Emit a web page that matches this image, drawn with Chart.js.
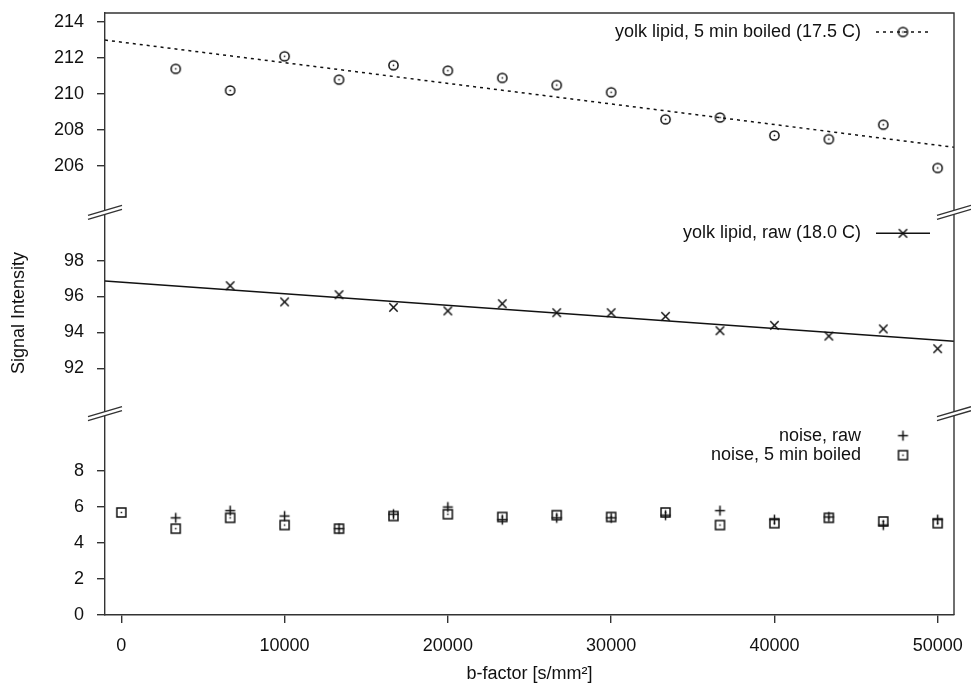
<!DOCTYPE html>
<html>
<head>
<meta charset="utf-8">
<script src="https://cdn.jsdelivr.net/npm/chart.js@4.4.0/dist/chart.umd.min.js"></script>
<style>
html, body { margin: 0; padding: 0; background: #fff; }
canvas { display: block; }
</style>
</head>
<body>
<canvas id="mycanvas" width="971" height="686"></canvas>
<script>
// b-factor values [s/mm^2]
var bFactor = [0, 3333, 6667, 10000, 13333, 16667, 20000, 23333, 26667, 30000, 33333, 36667, 40000, 43333, 46667, 50000];

// signal intensities (null = no measurement)
var lipidBoiled = [null, 211.4, 210.2, 212.1, 210.8, 211.6, 211.3, 210.9, 210.5, 210.1, 208.6, 208.7, 207.7, 207.5, 208.3, 205.9];
var lipidRaw    = [null, null, 96.6, 95.7, 96.1, 95.4, 95.2, 95.6, 95.1, 95.1, 94.9, 94.1, 94.4, 93.8, 94.2, 93.1];
var noiseRaw    = [null, 5.4, 5.8, 5.5, 4.8, 5.6, 6.0, 5.3, 5.4, 5.4, 5.55, 5.8, 5.3, 5.45, 5.0, 5.3];
var noiseBoiled = [5.7, 4.8, 5.4, 5.0, 4.8, 5.5, 5.6, 5.45, 5.55, 5.45, 5.7, 5.0, 5.1, 5.4, 5.2, 5.1];

// linear fits (end points)
var fitX         = [-1000, 51000];
var fitBoiledY   = [213.0, 207.05];
var fitRawY      = [96.86, 93.52];

// axis ticks
var xTicks      = [0, 10000, 20000, 30000, 40000, 50000];
var yTopTicks   = [206, 208, 210, 212, 214];
var yMidTicks   = [92, 94, 96, 98];
var yBotTicks   = [0, 2, 4, 6, 8];

var FONT = "'Liberation Sans', Arial, sans-serif";
var INK = '#111';
var AXIS = '#333';

function pairs(xs, ys) {
	var out = [];
	for (var i in xs) {
		if (ys[i] !== null) out.push({x: xs[i], y: ys[i]});
	}
	return out;
}

function makeMarker(kind) {
	var c = document.createElement('canvas');
	c.width = 15; c.height = 15;
	var g = c.getContext('2d');
	var m = 7.5;
	g.strokeStyle = INK; g.fillStyle = INK; g.lineWidth = 1.5;
	g.beginPath();
	if (kind === 'circle') {
		g.arc(m, m, 4.6, 0, 2 * Math.PI);
	} else if (kind === 'x') {
		g.moveTo(m - 4.2, m - 4.2); g.lineTo(m + 4.2, m + 4.2);
		g.moveTo(m - 4.2, m + 4.2); g.lineTo(m + 4.2, m - 4.2);
	} else if (kind === 'plus') {
		g.moveTo(m - 5, m); g.lineTo(m + 5, m);
		g.moveTo(m, m - 5); g.lineTo(m, m + 5);
	} else if (kind === 'square') {
		g.rect(m - 4.5, m - 4.5, 9, 9);
	}
	g.stroke();
	if (kind === 'circle' || kind === 'square') {
		g.fillRect(m - 0.75, m - 0.75, 1.5, 1.5);
	}
	return c;
}

var markers = {
	circle: makeMarker('circle'),
	x: makeMarker('x'),
	plus: makeMarker('plus'),
	square: makeMarker('square')
};

function yScale(min, max, ticks, weight, title) {
	return {
		type: 'linear',
		position: 'left',
		stack: 'signal',
		stackWeight: weight,
		min: min,
		max: max,
		afterBuildTicks: function(s) { s.ticks = ticks.map(function(v) { return {value: v}; }); },
		afterFit: function(s) { s.width = 105; s.paddingTop = 0; s.paddingBottom = 0; },
		grid: { drawOnChartArea: false, drawTicks: true, tickLength: 8, color: AXIS, lineWidth: 1.4 },
		border: { display: true, color: AXIS, width: 1.4 },
		ticks: { color: INK, font: { family: FONT, size: 18 }, padding: 13, callback: function(v) { return String(v); } },
		title: { display: !!title, text: title || '', color: INK, font: { family: FONT, size: 18 }, padding: { top: 8, bottom: 0 } }
	};
}

function drawBreak(ctx, x, y) {
	var w = 17, r = 5, gap = 2;
	ctx.fillStyle = '#fff';
	ctx.beginPath();
	ctx.moveTo(x - w, y + r - gap); ctx.lineTo(x + w, y - r - gap);
	ctx.lineTo(x + w, y - r + gap); ctx.lineTo(x - w, y + r + gap);
	ctx.closePath();
	ctx.fill();
	ctx.beginPath();
	ctx.moveTo(x - w, y + r - gap); ctx.lineTo(x + w, y - r - gap);
	ctx.moveTo(x - w, y + r + gap); ctx.lineTo(x + w, y - r + gap);
	ctx.stroke();
}

var framePlugin = {
	id: 'frame',
	afterDraw: function(chart) {
		var ctx = chart.ctx, a = chart.chartArea, sc = chart.scales;
		var ds = chart.data.datasets;
		ctx.save();
		ctx.strokeStyle = AXIS;
		ctx.lineWidth = 1.4;
		ctx.beginPath();
		ctx.moveTo(a.left, a.top); ctx.lineTo(a.right, a.top); ctx.lineTo(a.right, a.bottom);
		ctx.stroke();
		[sc.yTop.bottom, sc.yMid.bottom].forEach(function(y) {
			drawBreak(ctx, a.left, y);
			drawBreak(ctx, a.right, y);
		});

		// key
		var rows = [
			{ d: 0, fit: 4, y: sc.yTop.top + 19 },
			{ d: 1, fit: 5, y: sc.yMid.top + 21 },
			{ d: 2, y: sc.yBot.top + 22 },
			{ d: 3, y: sc.yBot.top + 41.5 }
		];
		var textX = a.right - 93, mx = a.right - 51;
		ctx.font = '18px ' + FONT;
		ctx.fillStyle = INK;
		ctx.textAlign = 'right';
		ctx.textBaseline = 'middle';
		rows.forEach(function(r) {
			ctx.fillText(ds[r.d].label, textX, r.y);
			if (r.fit !== undefined) {
				var f = ds[r.fit];
				ctx.save();
				ctx.strokeStyle = f.borderColor;
				ctx.lineWidth = f.borderWidth;
				ctx.setLineDash(f.borderDash || []);
				ctx.beginPath();
				ctx.moveTo(a.right - 78, r.y); ctx.lineTo(a.right - 24, r.y);
				ctx.stroke();
				ctx.restore();
			}
			var img = ds[r.d].pointStyle;
			ctx.drawImage(img, mx - img.width / 2, r.y - img.height / 2);
		});
		ctx.restore();
	}
};

var ctx = document.getElementById('mycanvas');

var chart = new Chart(ctx, {
	type: 'scatter',
	data: {
		datasets: [
			{ label: 'yolk lipid, 5 min boiled (17.5 C)', data: pairs(bFactor, lipidBoiled), yAxisID: 'yTop', pointStyle: markers.circle, pointRadius: 5, showLine: false },
			{ label: 'yolk lipid, raw (18.0 C)', data: pairs(bFactor, lipidRaw), yAxisID: 'yMid', pointStyle: markers.x, pointRadius: 5, showLine: false },
			{ label: 'noise, raw', data: pairs(bFactor, noiseRaw), yAxisID: 'yBot', pointStyle: markers.plus, pointRadius: 5, showLine: false },
			{ label: 'noise, 5 min boiled', data: pairs(bFactor, noiseBoiled), yAxisID: 'yBot', pointStyle: markers.square, pointRadius: 5, showLine: false },
			{ label: 'fit boiled', data: pairs(fitX, fitBoiledY), yAxisID: 'yTop', showLine: true, pointRadius: 0, borderColor: INK, borderWidth: 1.5, borderDash: [3, 4] },
			{ label: 'fit raw', data: pairs(fitX, fitRawY), yAxisID: 'yMid', showLine: true, pointRadius: 0, borderColor: INK, borderWidth: 1.5 }
		]
	},
	options: {
		responsive: false,
		animation: false,
		layout: { padding: { top: 13, right: 17, left: 0, bottom: 0 } },
		plugins: { legend: { display: false }, tooltip: { enabled: false } },
		scales: {
			x: {
				type: 'linear',
				min: -1000,
				max: 51000,
				afterBuildTicks: function(s) { s.ticks = xTicks.map(function(v) { return {value: v}; }); },
				afterFit: function(s) { s.height = 71; s.paddingLeft = 0; s.paddingRight = 0; },
				grid: { drawOnChartArea: false, drawTicks: true, tickLength: 8, color: AXIS, lineWidth: 1.4 },
				border: { display: true, color: AXIS, width: 1.4 },
				ticks: { color: INK, font: { family: FONT, size: 18 }, padding: 12, maxRotation: 0, callback: function(v) { return String(v); } },
				title: { display: true, text: 'b-factor [s/mm²]', color: INK, font: { family: FONT, size: 18 }, padding: { top: 0, bottom: 1 } }
			},
			// stacked from the bottom up
			yBot: yScale(0, 11.19, yBotTicks, 1),
			yMid: yScale(89.49, 100.68, yMidTicks, 1, 'Signal Intensity'),
			yTop: yScale(203.44, 214.5, yTopTicks, 0.99)
		}
	},
	plugins: [framePlugin]
});
</script>
</body>
</html>
